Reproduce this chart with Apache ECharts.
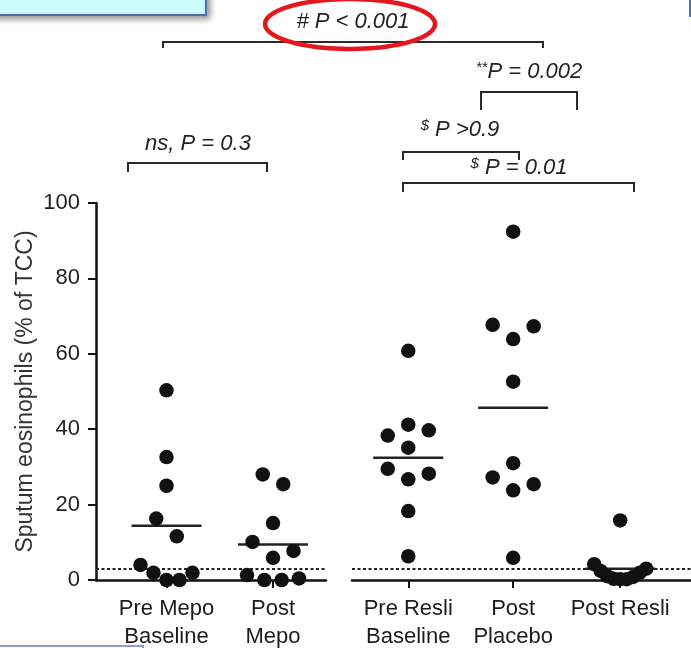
<!DOCTYPE html>
<html>
<head>
<meta charset="utf-8">
<script src="https://cdn.jsdelivr.net/npm/echarts@6/dist/echarts.min.js"></script>
<style>
  html, body { margin: 0; padding: 0; background: #ffffff; }
  #chart { width: 691px; height: 648px; }
</style>
</head>
<body>
<div id="chart"></div>
<script>
// ---- data -------------------------------------------------------------
const groups = ['Pre Mepo\nBaseline', 'Post\nMepo', 'Pre Resli\nBaseline', 'Post\nPlacebo', 'Post Resli'];
const preMepoBaseline  = [50.3, 32.6, 25.0, 16.3, 11.6, 4.0, 1.9, 1.9, 0, 0];
const postMepo         = [28.0, 25.4, 15.1, 10.1, 7.7, 5.9, 1.3, 0.4, 0, 0];
const preResliBaseline = [60.8, 41.2, 39.7, 38.3, 35.1, 29.5, 28.2, 26.7, 18.3, 6.3];
const postPlacebo      = [92.4, 67.7, 67.3, 63.9, 52.6, 31.0, 27.2, 25.4, 23.8, 5.9];
const postResli        = [15.8, 4.2, 3.0, 2.4, 1.9, 1.0, 0.8, 0.3, 0.2, 0.2];
const yTicks = [0, 20, 40, 60, 80, 100];
const normalUpperLimit = 3;   // dotted reference line
const yAxisTitle = 'Sputum eosinophils (% of TCC)';

const groupValues = [preMepoBaseline, postMepo, preResliBaseline, postPlacebo, postResli];

// ---- layout -----------------------------------------------------------
const FONT = "'Liberation Sans', Arial, Helvetica, sans-serif";
const INK = '#1c1c1c';
const PX_PER_UNIT = 106.5;          // horizontal distance between neighbouring columns
const ORIGIN_PX = 166.5;            // pixel centre of the first column
const slotX = [0, 1, 2.27, 3.255, 4.26];
const panelOf = [0, 0, 1, 1, 1];    // broken x axis: two panels
const PLOT_TOP = 203, PLOT_BOTTOM = 580;
const panels = [
  { left: 96,  right: 326 },
  { left: 352, right: 691 }
];
const pxToX = px => (px - ORIGIN_PX) / PX_PER_UNIT;
const PX_PER_VALUE = (PLOT_BOTTOM - PLOT_TOP) / 100;
const DOT_PX = 14.5;

// dot swarm: values are binned into rows, each row is spread symmetrically
// with the lowest value in the middle so low rows curve into a "smile";
// a row whose middle dot would sit on a neighbouring row's middle dot
// puts its highest value in the middle instead.
const ROW_ORIGIN = 4.3, ROW_HEIGHT = 6.4;
const MAX_STEP_PX = 20.5, MAX_ROW_WIDTH_PX = 52;
function arrange(row, highMiddle) {
  const n = row.length;
  const order = highMiddle
    ? [row[n - 1]].concat(row.slice(0, n - 1).reverse())
    : row;
  const step = n > 1 ? Math.min(MAX_STEP_PX, MAX_ROW_WIDTH_PX / (n - 1)) : 0;
  return order.map((v, i) => {
    let slot;
    if (n % 2 === 1) {
      slot = i === 0 ? 0 : (i % 2 === 1 ? (i + 1) / 2 : -i / 2);
    } else {
      const k2 = Math.floor(i / 2) + 0.5;
      slot = i % 2 === 0 ? k2 : -k2;
    }
    return { v: v, dx: slot * step };
  });
}
function swarm(values, centre) {
  const rows = {};
  values.forEach(v => {
    const key = Math.floor((v - ROW_ORIGIN) / ROW_HEIGHT);
    (rows[key] = rows[key] || []).push(v);
  });
  const keys = Object.keys(rows).map(Number).sort((a, b) => a - b);
  const sorted = keys.map(k => rows[k].slice().sort((a, b) => a - b));
  let placed = sorted.map(r => arrange(r, false));
  placed = placed.map((pts, ri) => {
    const mid = pts.find(p => p.dx === 0);
    if (!mid || pts.length < 2) return pts;
    const clash = placed.some((other, oi) => oi !== ri &&
      other.some(p => p.dx === 0 && Math.abs(p.v - mid.v) * PX_PER_VALUE < DOT_PX));
    return clash ? arrange(sorted[ri], true) : pts;
  });
  const out = [];
  placed.forEach(pts => pts.forEach(p => out.push([centre + p.dx / PX_PER_UNIT, p.v])));
  return out;
}
const mean = arr => arr.reduce((s, v) => s + v, 0) / arr.length;

// ---- option -----------------------------------------------------------
const grids = panels.map(p => ({
  left: p.left, top: PLOT_TOP, width: p.right - p.left, height: PLOT_BOTTOM - PLOT_TOP,
  outerBoundsMode: 'none', containLabel: false
}));

const xAxes = panels.map((p, pi) => {
  const ticks = slotX.filter((x, i) => panelOf[i] === pi);
  return {
    type: 'value', gridIndex: pi,
    min: pxToX(p.left), max: pxToX(p.right),
    splitLine: { show: false },
    axisLine: { show: true, onZero: false, lineStyle: { color: '#111', width: 2.5 } },
    axisTick: { show: true, inside: false, length: 8, customValues: ticks,
                lineStyle: { color: '#111', width: 2 } },
    axisLabel: {
      show: true, customValues: ticks, margin: 15,
      fontFamily: FONT, fontSize: 22, lineHeight: 28, color: INK,
      formatter: v => groups[slotX.indexOf(v)]
    }
  };
});

const yAxes = panels.map((p, pi) => ({
  type: 'value', gridIndex: pi, min: 0, max: 100, interval: 20,
  show: pi === 0,
  name: pi === 0 ? yAxisTitle : '',
  nameLocation: 'middle', nameGap: 59, nameRotate: 90,
  nameTextStyle: { fontFamily: FONT, fontSize: 23, color: '#333' },
  splitLine: { show: false },
  axisLine: { show: true, onZero: false, lineStyle: { color: '#111', width: 2.5 } },
  axisTick: { show: true, inside: false, length: 8, customValues: yTicks,
              lineStyle: { color: '#111', width: 2 } },
  axisLabel: { customValues: yTicks, margin: 16, fontFamily: FONT, fontSize: 22, color: '#222' }
}));

const series = [];
// dotted reference line in each panel
panels.forEach((p, pi) => {
  series.push({
    type: 'line', xAxisIndex: pi, yAxisIndex: pi, data: [], silent: true,
    markLine: {
      symbol: ['none', 'none'], silent: true, label: { show: false },
      lineStyle: { color: '#222', width: 2, type: [3, 2.5] },
      data: [{ yAxis: normalUpperLimit }]
    }
  });
});
// group means
panels.forEach((p, pi) => {
  series.push({
    type: 'custom', xAxisIndex: pi, yAxisIndex: pi, z: 3, silent: true,
    data: groupValues.map((vals, i) => [slotX[i], mean(vals)]).filter((d, i) => panelOf[i] === pi),
    renderItem: (params, api) => {
      const c = api.coord([api.value(0), api.value(1)]);
      return { type: 'line', shape: { x1: c[0] - 35, y1: c[1], x2: c[0] + 35, y2: c[1] },
               style: { stroke: '#222', lineWidth: 2.5 } };
    }
  });
});
// individual subjects
groupValues.forEach((vals, i) => {
  series.push({
    type: 'scatter', xAxisIndex: panelOf[i], yAxisIndex: panelOf[i], z: 5,
    symbol: 'circle', symbolSize: DOT_PX,
    itemStyle: { color: '#111', opacity: 1 },
    data: swarm(vals, slotX[i])
  });
});

// ---- significance brackets and slide decorations --------------------------
function bracket(x1, x2, y, drop1, drop2) {
  return { type: 'polyline', z: 10, silent: true,
           shape: { points: [[x1, y + drop1], [x1, y], [x2, y], [x2, y + (drop2 == null ? drop1 : drop2)]] },
           style: { stroke: '#2a2a2a', lineWidth: 2, fill: null } };
}
function pText(x, y, sup, body) {
  return { type: 'text', z: 10, silent: true, x: x, y: y,
           style: {
             text: (sup ? '{s|' + sup + '}' : '') + '{b|' + body + '}',
             align: 'center', verticalAlign: 'middle',
             rich: {
               s: { fontFamily: FONT, fontSize: 15, fontStyle: 'italic', fill: '#222', verticalAlign: 'top', lineHeight: 24 },
               b: { fontFamily: FONT, fontSize: 22, fontStyle: 'italic', fill: '#222', lineHeight: 24 }
             }
           } };
}
const ellipsePts = [];
for (let k = 0; k < 90; k++) {
  const t = k / 90 * Math.PI * 2;
  ellipsePts.push([350 + 85 * Math.cos(t), 24 + 25 * Math.sin(t)]);
}

const graphic = [
  // slide boxes around the figure
  { type: 'rect', z: 1, silent: true, shape: { x: -10, y: -10, width: 216, height: 25 },
    style: { fill: '#ccffff', stroke: '#5a68b4', lineWidth: 2,
             shadowBlur: 6, shadowOffsetX: 3, shadowOffsetY: 3, shadowColor: 'rgba(0,0,0,0.4)' } },
  { type: 'rect', z: 1, silent: true, shape: { x: 690, y: -10, width: 30, height: 26 },
    style: { fill: '#ccffff', stroke: '#5a68b4', lineWidth: 2 } },
  { type: 'rect', z: 1, silent: true, shape: { x: -10, y: 646, width: 153, height: 20 },
    style: { fill: '#ffffff', stroke: '#6c79c2', lineWidth: 1.5 } },

  bracket(163, 543, 42, 6),
  pText(353, 22, '', '# P < 0.001'),
  { type: 'polygon', z: 11, silent: true, shape: { points: ellipsePts },
    style: { fill: null, stroke: '#e3171c', lineWidth: 4.5 } },

  pText(529, 72, '**', 'P = 0.002'),
  bracket(481, 577, 92, 18),

  pText(460, 130, '$', ' P >0.9'),
  bracket(403, 519, 152, 8),

  pText(519, 168, '$', ' P = 0.01'),
  bracket(403, 634, 183, 9),

  pText(198, 144, '', 'ns, P = 0.3'),
  bracket(128, 267, 163, 9)
];

const chart = echarts.init(document.getElementById('chart'), null, { renderer: 'canvas' });
chart.setOption({
  animation: false,
  backgroundColor: '#ffffff',
  grid: grids,
  xAxis: xAxes,
  yAxis: yAxes,
  series: series,
  graphic: graphic
});
</script>
</body>
</html>
